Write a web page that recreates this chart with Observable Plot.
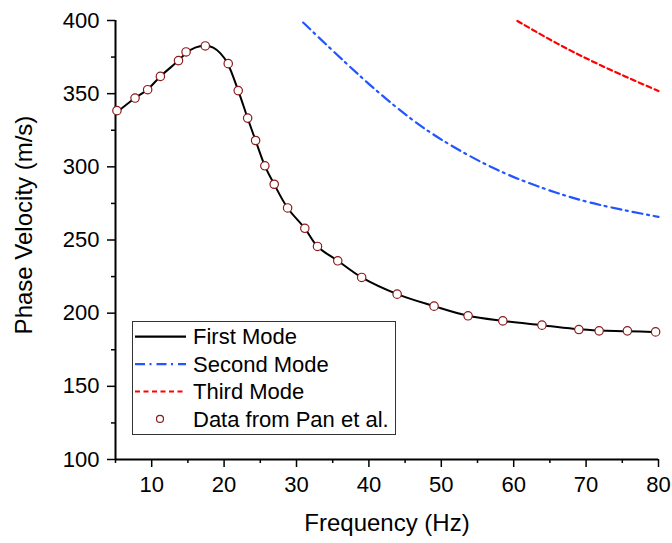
<!DOCTYPE html>
<html><head><meta charset="utf-8">
<script src="https://cdn.jsdelivr.net/npm/d3@7"></script>
<script src="https://cdn.jsdelivr.net/npm/@observablehq/plot@0.6"></script>
<style>
body{margin:0;background:#fff}
#wrap{position:relative;width:672px;height:543px}
#legend{position:absolute;left:132px;top:321px}
</style>
</head><body><div id="wrap"></div>
<script>
// First mode (solid curve)
const firstModeFreq = [5, 7.7, 9.4, 11.2, 13.7, 14.8, 16, 17.4, 18.5, 19.5, 20.5, 21.95, 23.25, 24.35, 25.63, 26.92, 28.77, 31.15, 32.9, 35.7, 39, 43.9, 49, 53.7, 58.5, 63.9, 69, 71.8, 75.7, 80];
const firstModeVel  = [336.5, 347, 352.7, 361.8, 372.6, 378, 381.5, 382.7, 381.5, 377.5, 370.5, 352.1, 333.3, 318, 300.7, 288.1, 271.9, 258, 245.6, 235.8, 224.4, 213, 204.8, 198.2, 194.7, 191.8, 189, 188.2, 187.7, 187];
// Second mode (dash-dot)
const secondModeFreq = [30.92, 36.58, 41.19, 45.79, 50.16, 57.06, 63.73, 70.63, 80];
const secondModeVel  = [398.6, 372.1, 351.5, 333, 318.2, 299.5, 286, 275.5, 265.8];
// Third mode (dotted)
const thirdModeFreq = [60.51, 66.04, 72.01, 80];
const thirdModeVel  = [399.7, 384.2, 369.4, 351.8];
// Data from Pan et al. (circles)
const panFreq = [5.2, 7.7, 9.44, 11.2, 13.7, 14.75, 17.4, 20.57, 21.95, 23.25, 24.35, 25.63, 26.92, 28.77, 31.15, 32.9, 35.7, 39, 43.9, 49, 53.7, 58.5, 63.9, 69, 71.8, 75.7, 79.6];
const panVel  = [338.4, 347, 352.7, 361.8, 372.6, 378.5, 382.6, 370.5, 352.1, 333.3, 318, 300.7, 288.1, 271.9, 258, 245.6, 235.8, 224.4, 213, 204.8, 198.2, 194.7, 191.8, 188.8, 187.9, 187.9, 187.2];

const xMajorTicks = [10, 20, 30, 40, 50, 60, 70, 80];
const xMinorTicks = [5, 15, 25, 35, 45, 55, 65, 75];
const yMajorTicks = [100, 150, 200, 250, 300, 350, 400];
const yMinorTicks = [125, 175, 225, 275, 325, 375];
const xTitle = ["Frequency (Hz)"];
const yTitle = ["Phase Velocity (m/s)"];

const seriesNames = ["First Mode", "Second Mode", "Third Mode", "Data from Pan et al."];
const seriesColors = ["#000000", "#2255ff", "#ff0000", "#8b1a1a"];
const seriesDash = [null, "10,4.5,2,5", "5,3.5", null];

const toRows = (fx, fy) => fx.map((f, i) => ({f, v: fy[i]}));
const first = toRows(firstModeFreq, firstModeVel);
const second = toRows(secondModeFreq, secondModeVel);
const third = toRows(thirdModeFreq, thirdModeVel);
const pan = toRows(panFreq, panVel);

const font = "'Liberation Sans', Arial, sans-serif";

const chart = Plot.plot({
  width: 672, height: 543,
  marginLeft: 115, marginRight: 14, marginTop: 20, marginBottom: 84,
  style: {fontFamily: font, fontSize: "22px", color: "#000", background: "#fff"},
  x: {domain: [5, 80], label: null},
  y: {domain: [100, 400], label: null},
  marks: [
    Plot.axisX({ticks: xMajorTicks, tickSize: 8, tickPadding: 9, fontSize: 22, strokeWidth: 1.5, label: null}),
    Plot.axisX({ticks: xMinorTicks, tickSize: 4, strokeWidth: 1.5, tickFormat: () => "", label: null}),
    Plot.axisY({ticks: yMajorTicks, tickSize: 8, tickPadding: 8, fontSize: 22, strokeWidth: 1.5, label: null}),
    Plot.axisY({ticks: yMinorTicks, tickSize: 4, strokeWidth: 1.5, tickFormat: () => "", label: null}),
    Plot.ruleX([5], {strokeWidth: 2}),
    Plot.ruleY([100], {strokeWidth: 2}),
    Plot.line(third, {x: "f", y: "v", curve: "catmull-rom", stroke: seriesColors[2], strokeWidth: 2.2, strokeDasharray: seriesDash[2]}),
    Plot.line(second, {x: "f", y: "v", curve: "catmull-rom", stroke: seriesColors[1], strokeWidth: 2.2, strokeDasharray: seriesDash[1]}),
    Plot.line(first, {x: "f", y: "v", curve: "catmull-rom", stroke: seriesColors[0], strokeWidth: 2}),
    Plot.dot(pan, {x: "f", y: "v", r: 4.2, stroke: seriesColors[3], fill: "white", strokeWidth: 1.2}),
    Plot.text(xTitle, {text: d => d, frameAnchor: "bottom", dy: 64, fontSize: 24, lineAnchor: "middle", textAnchor: "middle"}),
    Plot.text(yTitle, {text: d => d, frameAnchor: "left", dx: -91, dy: -15, rotate: -90, fontSize: 24, lineAnchor: "middle", textAnchor: "middle"})
  ]
});
const wrap = document.getElementById("wrap");
wrap.appendChild(chart);

// Legend box
const lw = 264, lh = 114, rowH = 27.4, row0 = 15.7;
const leg = d3.select(wrap).append("svg").attr("id", "legend")
  .attr("width", lw).attr("height", lh)
  .style("font-family", font).style("font-size", "22px");
leg.append("rect").attr("x", 0.5).attr("y", 0.5).attr("width", lw - 1).attr("height", lh - 1)
  .attr("fill", "white").attr("stroke", "#333").attr("stroke-width", 1);
seriesNames.forEach((name, i) => {
  const cy = row0 + i * rowH;
  if (i < 3) {
    leg.append("line").attr("x1", 3).attr("x2", 54).attr("y1", cy).attr("y2", cy)
      .attr("stroke", seriesColors[i]).attr("stroke-width", 2.2)
      .attr("stroke-dasharray", seriesDash[i]);
  } else {
    leg.append("circle").attr("cx", 28).attr("cy", cy).attr("r", 3.5)
      .attr("fill", "white").attr("stroke", seriesColors[i]).attr("stroke-width", 1.2);
  }
  leg.append("text").attr("x", 61).attr("y", cy).attr("dy", "0.35em").attr("fill", "#000").text(name);
});
</script>
</body></html>
